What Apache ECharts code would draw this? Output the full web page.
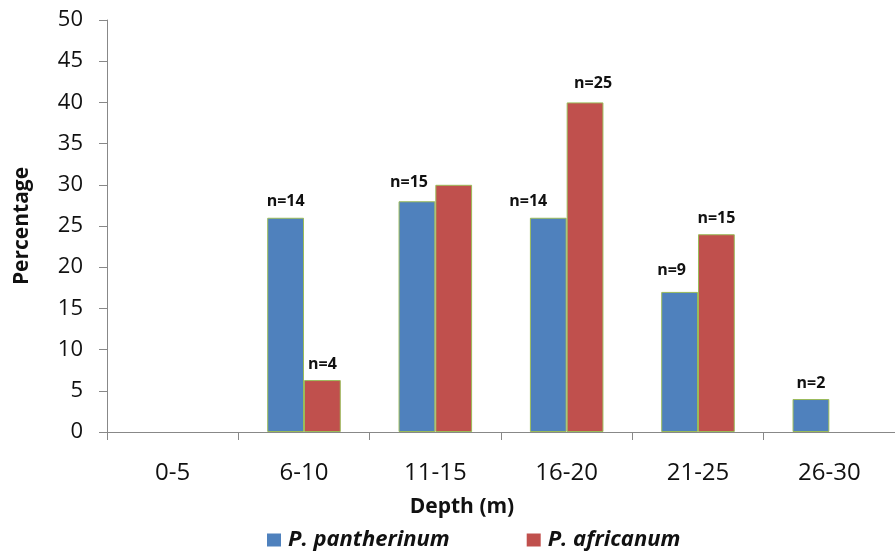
<!DOCTYPE html>
<html>
<head>
<meta charset="utf-8">
<script src="https://cdn.jsdelivr.net/npm/echarts@6/dist/echarts.min.js"></script>
<style>
  html, body { margin: 0; padding: 0; background: #fff; }
  #chart { width: 895px; height: 555px; }
</style>
</head>
<body>
<div id="chart"></div>
<script>
// Depth classes (m)
const depthClasses = ['0-5', '6-10', '11-15', '16-20', '21-25', '26-30'];
// Percentage of records per depth class
const pantherinumPct = [0, 26, 28, 26, 17, 4];
const africanumPct = [0, 6.3, 30, 40, 24, 0];
// Sample sizes shown above bars (null = no label)
const pantherinumN = [null, 14, 15, 14, 9, 2];
const africanumN = [null, 4, null, 25, 15, null];
const seriesNames = ['P. pantherinum', 'P. africanum'];
const yTicks = { min: 0, max: 50, interval: 5 };

const FONT = '"Open Sans", Lato, sans-serif';

// hand-placed nudges for labels that would crowd a neighbouring bar
const pantherinumLabelNudge = [null, null, [-8, -3], [-20, 0], [-8, -5], null];
const africanumLabelNudge = [null, null, null, [8, -3], null, null];

function makeData(values, counts, nudges) {
  return values.map((v, i) => {
    const label = { show: counts[i] != null, formatter: counts[i] != null ? 'n=' + counts[i] : '' };
    if (nudges[i]) label.offset = nudges[i];
    return {
      value: v,
      // empty classes get no outline so nothing is drawn on the baseline
      itemStyle: v === 0 ? { borderWidth: 0 } : undefined,
      label: label
    };
  });
}

const labelStyle = {
  position: 'top',
  distance: 8,
  color: '#111',
  fontFamily: FONT,
  fontWeight: 'bold',
  fontSize: 16
};

const chart = echarts.init(document.getElementById('chart'));
chart.setOption({
  animation: false,
  grid: { left: 107, right: -10, top: 20, bottom: 123, containLabel: false },
  legend: {
    top: 529,
    left: 267,
    padding: 0,
    itemWidth: 14,
    itemHeight: 13,
    itemGap: 77,
    icon: 'rect',
    itemStyle: { borderWidth: 0 },
    textStyle: { fontFamily: FONT, fontSize: 22, fontStyle: 'italic', fontWeight: 'bold', color: '#111', padding: [0, 0, 0, 2] },
    data: seriesNames
  },
  xAxis: {
    type: 'category',
    data: depthClasses,
    name: 'Depth (m)',
    nameLocation: 'middle',
    nameGap: 65,
    nameTextStyle: { fontFamily: FONT, fontSize: 21, fontWeight: 'bold', color: '#111', padding: [0, 78, 0, 0] },
    axisLine: { lineStyle: { color: '#888', width: 1 } },
    axisTick: { show: true, length: 8, lineStyle: { color: '#888' } },
    axisLabel: { fontFamily: FONT, fontSize: 24, color: '#111', margin: 29 }
  },
  yAxis: {
    type: 'value',
    min: yTicks.min,
    max: yTicks.max,
    interval: yTicks.interval,
    name: 'Percentage',
    nameLocation: 'middle',
    nameGap: 74,
    nameRotate: 90,
    nameTextStyle: { fontFamily: FONT, fontSize: 21, fontWeight: 'bold', color: '#111' },
    axisLine: { show: true, lineStyle: { color: '#888', width: 1 } },
    axisTick: { show: true, length: 8, lineStyle: { color: '#888' } },
    axisLabel: { fontFamily: FONT, fontSize: 22, color: '#111', margin: 24 },
    splitLine: { show: false }
  },
  series: [
    {
      name: seriesNames[0],
      type: 'bar',
      data: makeData(pantherinumPct, pantherinumN, pantherinumLabelNudge),
      barGap: '0%',
      barCategoryGap: '44%',
      itemStyle: { color: '#4f81bd', borderColor: '#9bbb59', borderWidth: 1 },
      label: labelStyle
    },
    {
      name: seriesNames[1],
      type: 'bar',
      data: makeData(africanumPct, africanumN, africanumLabelNudge),
      barGap: '0%',
      barCategoryGap: '44%',
      itemStyle: { color: '#c0504d', borderColor: '#9bbb59', borderWidth: 1 },
      label: labelStyle
    }
  ]
});
</script>
</body>
</html>
